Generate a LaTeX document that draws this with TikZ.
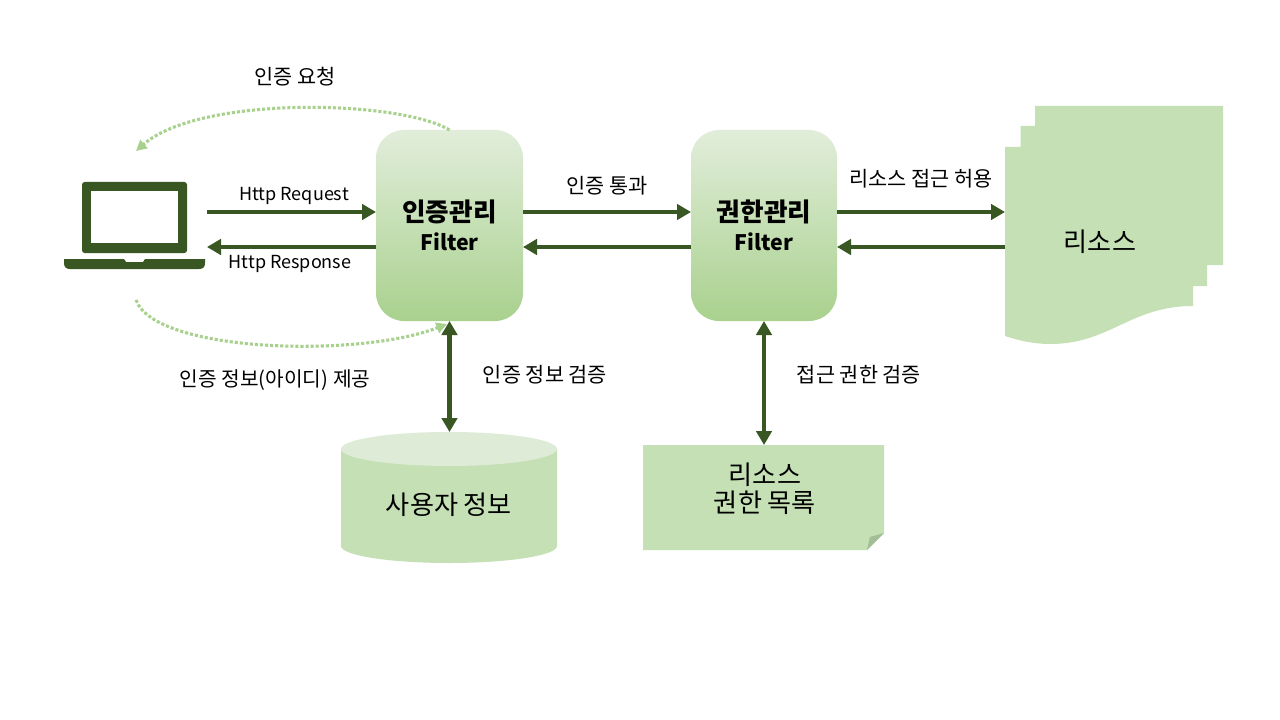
\documentclass[tikz,border=0pt]{standalone}
\usepackage{fontspec}
\setmainfont{Noto Sans CJK KR}
\usetikzlibrary{arrows.meta,calc}
\definecolor{dk}{HTML}{385723}
\definecolor{lt}{HTML}{A9D18E}
\definecolor{pale}{HTML}{C5E0B4}
\definecolor{paler}{HTML}{DEEBD6}
\definecolor{fold}{HTML}{A3BD97}
\newcommand{\lat}[1]{{\fontsize{16}{20}\selectfont #1}}
\tikzset{
  filterbox/.style={rounded corners=21pt,minimum width=110.25pt,minimum height=143.25pt,inner sep=0pt,outer sep=0pt,
    top color=paler!90!white,bottom color=lt,align=center,font=\fontsize{19.2}{21.5}\selectfont\bfseries},
  anchorbox/.style={inner sep=0pt,outer sep=0pt},
  lbl/.style={inner sep=0pt,font=\fontsize{15.6}{18}\selectfont,text=black},
  latlbl/.style={inner sep=0pt,font=\fontsize{13.5}{16}\selectfont,text=black},
  biglbl/.style={inner sep=0pt,align=center,font=\fontsize{19.6}{21}\selectfont,text=black},
  solidarrow/.style={draw=dk,line width=3.7pt,-{Triangle[length=10.5pt,width=11.5pt]}},
  bothways/.style={draw=dk,line width=3.7pt,{Triangle[length=10.5pt,width=11.5pt]}-{Triangle[length=10.5pt,width=11.5pt]}},
  dotarrow/.style={draw=lt,line width=2.3pt,dash pattern=on 2.3pt off 1.5pt,-{Triangle[length=8pt,width=8pt]}},
}
\begin{document}
\begin{tikzpicture}[x=0.75pt,y=-0.75pt]
\useasboundingbox (0,0) rectangle (1280,720);
\fill[white] (0,0) rectangle (1280,720);
\coordinate (r1) at (0,212);
\coordinate (r2) at (0,247);
% laptop
\fill[dk,rounded corners=2pt] (82,253) -- (82,182) -- (187,182) -- (187,253) -- cycle;
\fill[white] (91,191.5) rectangle (178,243.5);
\fill[dk] (64,259) -- (124,259) -- (126,262) -- (143,262) -- (145,259) -- (205,259) -- (205,263)
  .. controls (205,267) and (203,269) .. (199,269) -- (70,269) .. controls (66,269) and (64,267) .. (64,263) -- cycle;
\node[anchorbox,minimum width=107.25pt,minimum height=65pt] (lap) at (135.5,225) {};
\coordinate (lapTop) at (136,151);
\coordinate (lapBot) at (136,300);
% filters
\node[filterbox] (f1) at (449.5,225.5) {인증관리\\\lat{Filter}};
\node[filterbox,minimum width=109.5pt] (f2) at (764,225.5) {권한관리\\\lat{Filter}};
% resource document
\fill[pale] (1035,106) -- (1223,106) -- (1223,265) -- (1207,265) -- (1207,286) -- (1193,286) -- (1193,306)
  .. controls (1130,306) and (1110,344) .. (1050,344) .. controls (1035,344) and (1020,341) .. (1005,336)
  -- (1005,147) -- (1020.5,147) -- (1020.5,126) -- (1035,126) -- cycle;
\node[anchorbox,minimum width=142.5pt,minimum height=100pt] (res) at (1100,241) {};
\node[biglbl] (restext) at (1100,242) {리소스};
% database
\fill[pale] (341,449) -- (341,546) arc[start angle=180,end angle=360,x radius=108,y radius=-17] -- (557,449) -- cycle;
\fill[paler] (449,449) ellipse [x radius=108,y radius=17];
\node[anchorbox,minimum width=162pt,minimum height=98.25pt] (db) at (449.5,497.5) {};
\node[biglbl] (dbtext) at (449,505) {사용자 정보};
% note
\fill[pale] (643,445) -- (884,445) -- (884,533) -- (867,550) -- (643,550) -- cycle;
\fill[fold] (884,533) -- (867,550) -- (870,537) -- cycle;
\node[anchorbox,minimum width=180.75pt,minimum height=78.75pt] (note) at (764,497.5) {};
\node[biglbl] (notetext) at (765,489) {리소스\\권한 목록};
% connectors
\draw[solidarrow] (lap.east |- r1) -- (f1.west |- r1);
\draw[solidarrow] (f1.west |- r2) -- (lap.east |- r2);
\draw[solidarrow] (f1.east |- r1) -- (f2.west |- r1);
\draw[solidarrow] (f2.west |- r2) -- (f1.east |- r2);
\draw[solidarrow] (f2.east |- r1) -- (res.west |- r1);
\draw[solidarrow] (res.west |- r2) -- (f2.east |- r2);
\draw[bothways] (f1.south) -- (db.north);
\draw[bothways] (f2.south) -- (note.north);
\draw[dotarrow] (f1.north) .. controls (400,100) and (200,95) .. (lapTop);
\coordinate (f1in) at (447,324);
\draw[dotarrow] (lapBot) .. controls (155,353) and (360,358) .. (f1in);
% labels
\node[lbl] (t1) at (295,77) {인증 요청};
\node[latlbl] (t2) at (294,196) {Http Request};
\node[latlbl] (t3) at (290,264) {Http Response};
\node[lbl] (t4) at (607,186) {인증 통과};
\node[lbl] (t5) at (921,179) {리소스 접근 허용};
\node[lbl,font=\fontsize{15.2}{18}\selectfont] (t6) at (275,380) {인증 정보(아이디) 제공};
\node[lbl] (t7) at (545,375) {인증 정보 검증};
\node[lbl] (t8) at (859,375) {접근 권한 검증};
\end{tikzpicture}
\end{document}
